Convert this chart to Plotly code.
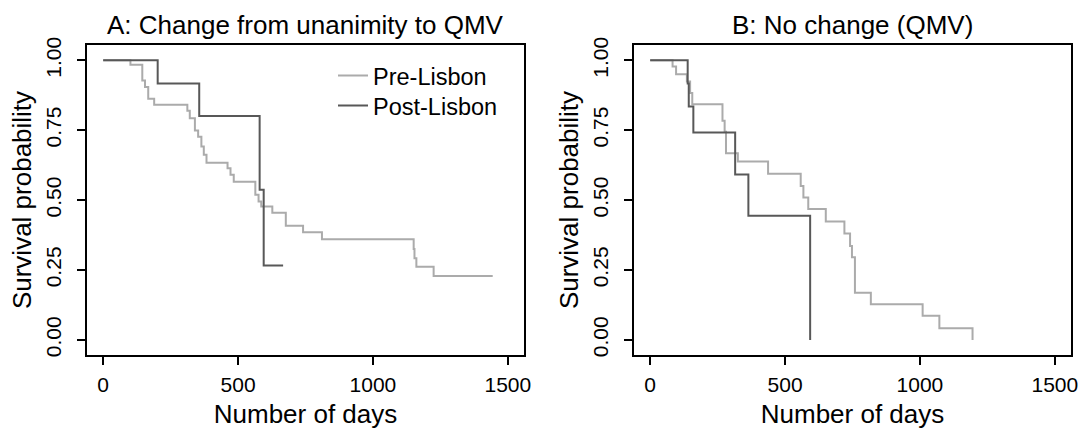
import plotly.graph_objects as go

# ---------------- data ----------------
# Panel A: change from unanimity to QMV
a_pre_days = [0, 101, 145, 155, 167, 189, 312, 321, 340, 352, 364, 373, 383, 461, 472, 484,
              564, 576, 586, 627, 677, 741, 811, 1151, 1154, 1161, 1225, 1444]
a_pre_surv = [1.0, 0.984, 0.928, 0.905, 0.863, 0.841, 0.820, 0.793, 0.749, 0.727, 0.692, 0.662,
              0.634, 0.614, 0.591, 0.566, 0.519, 0.495, 0.477, 0.455, 0.408, 0.385, 0.360,
              0.325, 0.292, 0.262, 0.229, 0.229]
a_post_days = [0, 202, 356, 580, 595, 667]
a_post_surv = [1.0, 0.917, 0.801, 0.537, 0.266, 0.266]

# Panel B: no change (QMV)
b_pre_days = [0, 83, 96, 136, 148, 156, 268, 276, 281, 325, 437, 558, 568, 586, 651, 720,
              741, 748, 759, 818, 1010, 1072, 1195]
b_pre_surv = [1.0, 0.978, 0.950, 0.924, 0.883, 0.843, 0.784, 0.745, 0.668, 0.638, 0.594,
              0.551, 0.509, 0.468, 0.424, 0.381, 0.336, 0.296, 0.169, 0.128, 0.086, 0.042, 0.0]
b_post_days = [0, 139, 143, 160, 315, 364, 593]
b_post_surv = [1.0, 0.917, 0.835, 0.742, 0.592, 0.444, 0.0]

panel_titles = ["A: Change from unanimity to QMV", "B: No change (QMV)"]
series_names = ["Pre-Lisbon", "Post-Lisbon"]
x_ticks = [0, 500, 1000, 1500]
y_ticks = [0.0, 0.25, 0.5, 0.75, 1.0]
y_ticklabels = ["0.00", "0.25", "0.50", "0.75", "1.00"]

PRE_COLOR = "#ababab"
POST_COLOR = "#585858"
FONT = "Liberation Sans, Arial, sans-serif"

W, H = 1083, 429

fig = go.Figure()

panels = [
    (a_pre_days, a_pre_surv, a_post_days, a_post_surv, "x", "y"),
    (b_pre_days, b_pre_surv, b_post_days, b_post_surv, "x2", "y2"),
]
for i, (pd_, ps, qd, qs, xa, ya) in enumerate(panels):
    fig.add_trace(go.Scatter(x=pd_, y=ps, mode="lines", line=dict(color=PRE_COLOR, width=2, shape="hv"),
                             name=series_names[0], showlegend=(i == 0), legend="legend",
                             xaxis=xa, yaxis=ya))
    fig.add_trace(go.Scatter(x=qd, y=qs, mode="lines", line=dict(color=POST_COLOR, width=2, shape="hv"),
                             name=series_names[1], showlegend=(i == 0), legend="legend2",
                             xaxis=xa, yaxis=ya))

# plot-area pixel positions
top, bottom = 45, 355
yd = [1 - bottom / H, 1 - top / H]
xdA = [87 / W, 524 / W]
xdB = [634 / W, 1071 / W]

axis_common = dict(showline=True, mirror=True, linecolor="black", linewidth=1.5,
                   ticks="outside", ticklen=8, tickwidth=1.5, tickcolor="black",
                   showgrid=False, zeroline=False, automargin=False,
                   tickfont=dict(family=FONT, size=21, color="black"))

xaxis_common = dict(axis_common, range=[-60, 1560], tickvals=x_ticks, ticklabelstandoff=2,
                    title=dict(text="Number of days", font=dict(family=FONT, size=26, color="black"),
                               standoff=15))
yaxis_common = dict(axis_common, range=[-0.054, 1.055], tickvals=y_ticks, ticktext=y_ticklabels,
                    tickangle=-90, ticklabelstandoff=8,
                    title=dict(text="Survival probability", font=dict(family=FONT, size=26, color="black"),
                               standoff=3))

legend_common = dict(xanchor="left", yanchor="middle", bgcolor="rgba(0,0,0,0)",
                     font=dict(family=FONT, size=23.5, color="black"), itemwidth=30)

fig.update_layout(
    xaxis=dict(xaxis_common, domain=xdA, anchor="y"),
    yaxis=dict(yaxis_common, domain=yd, anchor="x"),
    xaxis2=dict(xaxis_common, domain=xdB, anchor="y2"),
    yaxis2=dict(yaxis_common, domain=yd, anchor="x2"),
    width=W, height=H,
    margin=dict(l=0, r=0, t=0, b=0),
    plot_bgcolor="white", paper_bgcolor="white",
    font=dict(family=FONT, color="black"),
    legend=dict(legend_common, x=333 / W, y=1 - 75.7 / H),
    legend2=dict(legend_common, x=333 / W, y=1 - 105.7 / H),
)

for j, t in enumerate(panel_titles):
    fig.add_annotation(text=t, xref=("x domain" if j == 0 else "x2 domain"), x=0.5,
                       yref="paper", y=1 - 25 / H, xanchor="center", yanchor="middle",
                       showarrow=False, font=dict(family=FONT, size=26, color="black"))

fig.write_html("out.html", config={"displayModeBar": False},
               post_script="document.body.style.margin='0';")
